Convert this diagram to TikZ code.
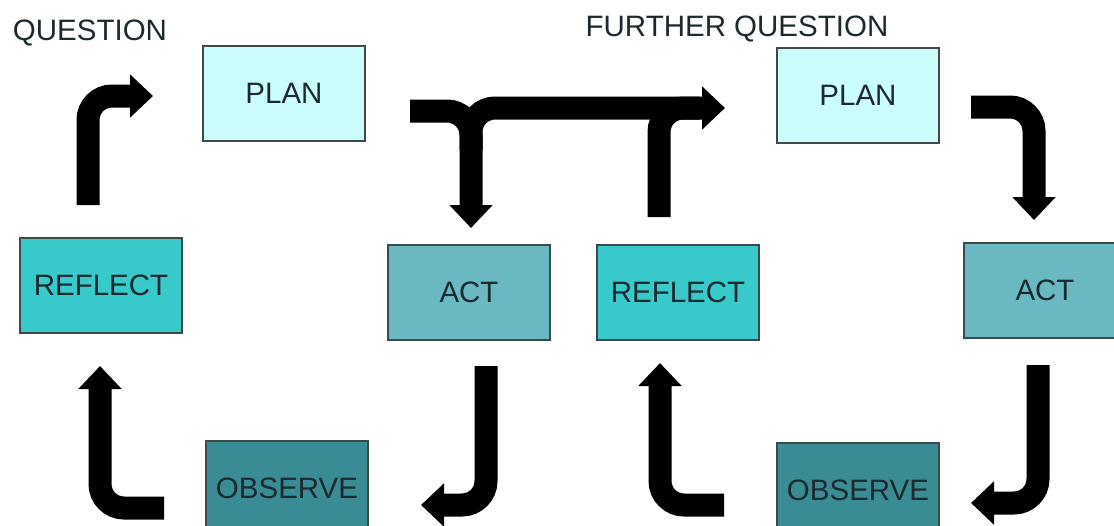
\documentclass[tikz,border=0pt]{standalone}
\usepackage{fontspec}
\setmainfont{Liberation Sans}
\usetikzlibrary{arrows.meta}

\definecolor{planfill}{HTML}{CCFDFD}
\definecolor{reflfill}{HTML}{38CACA}
\definecolor{actfill}{HTML}{6AB8C2}
\definecolor{obsfill}{HTML}{3A8C94}
\definecolor{boxline}{HTML}{3C4A4C}
\definecolor{ink}{HTML}{1C2A30}

\tikzset{
  stage/.style={draw=boxline, line width=2pt, rectangle, inner sep=0pt,
    minimum width=162pt, minimum height=95pt, text=ink,
    font=\fontsize{29.5pt}{34pt}\selectfont},
  planbox/.style={stage, fill=planfill},
  actbox/.style={stage, fill=actfill},
  obsbox/.style={stage, fill=obsfill},
  reflbox/.style={stage, fill=reflfill},
  title/.style={text=ink, inner sep=0pt, font=\fontsize{29.5pt}{34pt}\selectfont},
  bigarrow/.style={line width=23pt, line cap=butt, rounded corners=24pt,
    -{Triangle[width=42pt,length=23pt]}},
  bigshaft/.style={line width=23pt, line cap=butt, rounded corners=24pt}
}

\begin{document}
\begin{tikzpicture}[x=1pt, y=-1pt]
  \useasboundingbox (0,0) rectangle (1114,525);
  \clip (0,0) rectangle (1114,525);
  \fill[white] (0,0) rectangle (1114,525);

  % headings
  \node[title] (q1) at (90,33) {QUESTION};
  \node[title] (q2) at (737,29) {FURTHER QUESTION};

  % first cycle
  \node[planbox] (plan1) at (284,93) {PLAN};
  \node[actbox]  (act1)  at (469,292) {ACT};
  \node[obsbox]  (obs1)  at (287,488) {OBSERVE};
  \node[reflbox] (refl1) at (101,285) {REFLECT};

  % second cycle
  \node[planbox] (plan2) at (858,95) {PLAN};
  \node[actbox]  (act2)  at (1045,290) {ACT};
  \node[obsbox]  (obs2)  at (858,490) {OBSERVE};
  \node[reflbox] (refl2) at (678,292) {REFLECT};

  % anchor points of the bent arrows
  \coordinate (r1a) at (88,205);  \coordinate (r1b) at (88,96);   \coordinate (r1c) at (153,96);
  \coordinate (p1a) at (410,111); \coordinate (p1b) at (471,111); \coordinate (p1c) at (471,228);
  \coordinate (t1a) at (471,150); \coordinate (t1b) at (471,108); \coordinate (t1c) at (725,108);
  \coordinate (r2a) at (659,217); \coordinate (r2b) at (659,108); \coordinate (r2c) at (700,108);
  \coordinate (p2a) at (971,107); \coordinate (p2b) at (1034,107);\coordinate (p2c) at (1034,220);
  \coordinate (a1a) at (486,366); \coordinate (a1b) at (486,505); \coordinate (a1c) at (421,505);
  \coordinate (o1a) at (164,508); \coordinate (o1b) at (100,508); \coordinate (o1c) at (100,366);
  \coordinate (a2a) at (1038,365);\coordinate (a2b) at (1038,503);\coordinate (a2c) at (971,503);
  \coordinate (o2a) at (724,505); \coordinate (o2b) at (660,505); \coordinate (o2c) at (660,363);

  % reflect -> plan
  \draw[bigarrow] (r1a) -- (r1b) -- (r1c);
  % plan -> act
  \draw[bigarrow] (p1a) -- (p1b) -- (p1c);
  % branch towards the further question
  \draw[bigarrow] (t1a) -- (t1b) -- (t1c);
  \draw[bigshaft] (r2a) -- (r2b) -- (r2c);
  % plan -> act (second cycle)
  \draw[bigarrow] (p2a) -- (p2b) -- (p2c);
  % act -> observe
  \draw[bigarrow] (a1a) -- (a1b) -- (a1c);
  \draw[bigarrow] (a2a) -- (a2b) -- (a2c);
  % observe -> reflect
  \draw[bigarrow] (o1a) -- (o1b) -- (o1c);
  \draw[bigarrow] (o2a) -- (o2b) -- (o2c);
\end{tikzpicture}
\end{document}
